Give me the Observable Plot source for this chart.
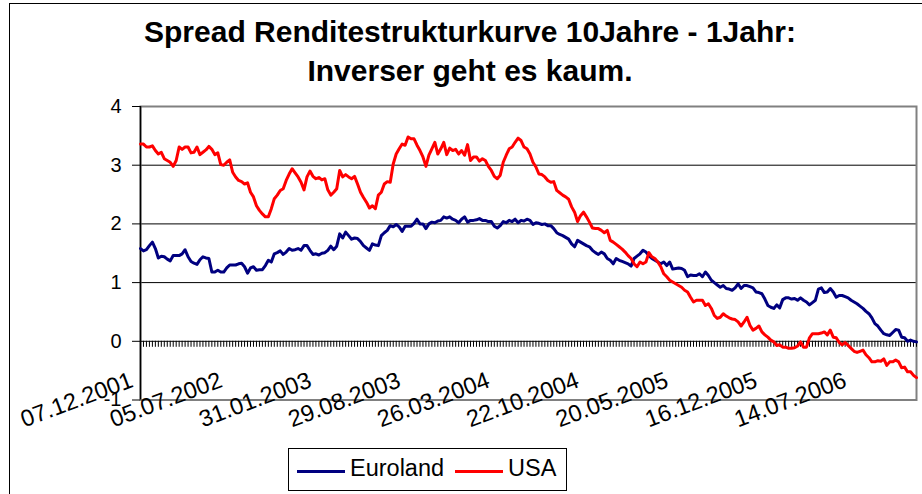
<!DOCTYPE html>
<html><head><meta charset="utf-8">
<script src="https://cdn.jsdelivr.net/npm/d3@7"></script>
<script src="https://cdn.jsdelivr.net/npm/@observablehq/plot@0.6"></script>
<style>
html,body{margin:0;padding:0;background:#fff;}
#wrap{position:relative;width:922px;height:494px;overflow:hidden;font-family:"Liberation Sans",Arial,sans-serif;color:#000;}
#border{position:absolute;left:9px;top:3px;width:2000px;height:2000px;border-left:1.5px solid #000;border-top:1.5px solid #000;}
#title{position:absolute;left:9px;top:12px;width:922px;text-align:center;font-weight:bold;font-size:30px;line-height:39px;}
#chart{position:absolute;left:0;top:95px;}
#legend{position:absolute;left:288px;top:448px;width:279px;height:43px;box-sizing:border-box;border:1px solid #000;background:#fff;}
#legend .sw{position:absolute;height:3px;top:20.5px;}
#legend .lb{position:absolute;font-size:23.5px;line-height:1;top:8px;white-space:nowrap;}
</style></head>
<body><div id="wrap">
<div id="border"></div>
<div id="title">Spread Renditestrukturkurve 10Jahre - 1Jahr:<br>Inverser geht es kaum.</div>
<div id="chart"></div>
<div id="legend"></div>
</div>
<script>
const firstWeek = "07.12.2001";
const weekCount = 262;
const tickLabels = ["07.12.2001","05.07.2002","31.01.2003","29.08.2003","26.03.2004","22.10.2004","20.05.2005","16.12.2005","14.07.2006"];
const yTicks = [-1, 0, 1, 2, 3, 4];
const seriesNames = ["Euroland", "USA"];
const seriesColors = ["#000080", "#FF0000"];

const euroland = [
1.58,1.54,1.56,1.63,1.69,1.58,1.42,1.45,1.44,1.40,1.37,1.46,1.46,1.46,1.49,1.56,1.44,1.36,1.33,1.31,1.39,1.44,1.42,1.41,1.18,1.18,1.21,1.18,1.18,1.25,1.30,1.30,1.30,1.32,1.33,1.27,1.16,1.25,1.27,1.21,1.22,1.22,1.29,1.38,1.35,1.49,1.51,1.54,1.48,1.52,1.58,1.55,1.56,1.58,1.55,1.63,1.63,1.55,1.48,1.49,1.47,1.50,1.51,1.55,1.62,1.56,1.62,1.83,
1.76,1.86,1.80,1.74,1.76,1.75,1.70,1.63,1.59,1.55,1.66,1.64,1.63,1.80,1.85,1.89,1.97,1.95,1.99,1.95,1.87,1.96,1.96,1.96,2.01,2.08,2.00,2.00,1.92,2.00,2.03,2.02,2.05,2.06,2.12,2.10,2.12,2.08,2.06,2.02,2.08,2.12,2.03,2.06,2.06,2.07,2.09,2.06,2.06,2.04,2.04,1.96,1.93,1.97,2.04,2.02,2.06,2.04,2.08,2.02,2.06,2.05,2.08,2.06,
1.99,2.02,2.01,1.99,2.00,1.97,1.97,1.92,1.85,1.82,1.80,1.77,1.74,1.66,1.61,1.72,1.69,1.66,1.63,1.61,1.55,1.51,1.48,1.52,1.49,1.41,1.38,1.32,1.41,1.38,1.36,1.34,1.32,1.28,1.41,1.45,1.49,1.55,1.52,1.46,1.41,1.38,1.35,1.32,1.35,1.29,1.35,1.23,1.24,1.25,1.24,1.21,1.10,1.13,1.12,1.12,1.15,1.10,1.18,1.12,1.04,1.00,0.96,
0.92,0.95,0.90,0.89,0.87,0.91,0.98,0.90,0.95,0.95,0.93,0.91,0.84,0.83,0.81,0.72,0.61,0.58,0.56,0.62,0.57,0.71,0.74,0.74,0.72,0.73,0.70,0.74,0.70,0.67,0.62,0.66,0.70,0.89,0.91,0.83,0.84,0.90,0.84,0.75,0.78,0.78,0.76,0.74,0.70,0.67,0.64,0.60,0.56,0.51,0.47,0.40,0.30,0.26,0.19,0.13,0.11,0.10,0.15,0.20,0.19,0.07,0.06,0.00,0.02,0.00,-0.01
];

const usa = [
3.36,3.36,3.31,3.31,3.33,3.25,3.19,3.22,3.11,3.08,3.05,2.98,3.08,3.31,3.27,3.31,3.31,3.21,3.22,3.31,3.18,3.22,3.26,3.32,3.27,3.18,3.21,3.01,3.00,3.05,3.09,2.88,2.80,2.74,2.72,2.68,2.70,2.54,2.46,2.31,2.23,2.17,2.12,2.12,2.26,2.43,2.49,2.57,2.60,2.74,2.85,2.94,2.87,2.80,2.71,2.58,2.80,2.90,2.81,2.77,2.79,2.75,2.77,2.58,2.49,2.54,2.60,2.91,
2.80,2.84,2.80,2.77,2.81,2.68,2.54,2.45,2.37,2.27,2.31,2.26,2.49,2.54,2.68,2.72,2.71,3.02,3.19,3.28,3.36,3.34,3.48,3.45,3.45,3.34,3.25,3.14,2.98,3.17,3.28,3.39,3.19,3.28,3.39,3.18,3.29,3.25,3.27,3.19,3.25,3.17,3.35,3.08,3.14,3.14,3.07,3.11,3.08,2.98,2.91,2.81,2.77,2.83,3.05,3.17,3.28,3.31,3.39,3.46,3.42,3.31,3.28,3.19,
3.05,2.97,2.85,2.84,2.80,2.74,2.71,2.72,2.57,2.53,2.49,2.46,2.42,2.29,2.20,2.04,2.14,2.20,2.12,2.03,1.93,1.92,1.92,1.89,1.85,1.89,1.72,1.69,1.65,1.61,1.57,1.52,1.46,1.41,1.32,1.27,1.35,1.32,1.35,1.51,1.44,1.41,1.35,1.27,1.15,1.10,1.04,1.01,0.98,0.95,0.92,0.87,0.84,0.75,0.67,0.70,0.70,0.70,0.61,0.64,0.56,0.44,0.39,
0.41,0.47,0.43,0.40,0.38,0.37,0.33,0.26,0.33,0.41,0.27,0.19,0.22,0.26,0.16,0.11,0.07,0.02,-0.01,-0.07,-0.06,-0.10,-0.10,-0.12,-0.12,-0.11,-0.08,-0.01,-0.10,-0.10,0.06,0.13,0.13,0.13,0.14,0.16,0.11,0.19,0.07,0.06,-0.02,-0.06,-0.02,-0.07,-0.12,-0.17,-0.19,-0.17,-0.15,-0.23,-0.28,-0.35,-0.35,-0.33,-0.34,-0.30,-0.41,-0.35,-0.35,-0.32,-0.35,-0.45,-0.44,-0.52,-0.52,-0.58,-0.62
];

const parse = d3.utcParse("%d.%m.%Y");
const start = parse(firstWeek);
const weeks = d3.range(weekCount).map(i => d3.utcDay.offset(start, 7 * i));
const valuesByName = {Euroland: euroland, USA: usa};
const rows = seriesNames.flatMap(name => valuesByName[name].map((v, i) => ({date: weeks[i], value: v, name})));

const chart = Plot.plot({
  width: 922, height: 345,
  marginLeft: 140, marginRight: 6, marginTop: 11, marginBottom: 40.5,
  x: {type: "utc", domain: [weeks[0], weeks[weeks.length - 1]], axis: null},
  y: {domain: [-1, 4], axis: null},
  color: {domain: seriesNames, range: seriesColors},
  style: {fontFamily: "'Liberation Sans', Arial, sans-serif", fontSize: "20px", background: "transparent", overflow: "visible", color: "#000"},
  marks: [
    Plot.ruleY([1, 2, 3], {stroke: "#000", strokeWidth: 1}),
    Plot.frame({stroke: "#808080", strokeWidth: 2}),
    Plot.ruleY([0], {stroke: "#000", strokeWidth: 1}),
    Plot.ruleX(weeks, {x: d => d, y1: () => 0, y2: () => 0, insetBottom: -6, stroke: "#000", strokeWidth: 1}),
    Plot.ruleX([weeks[0]], {stroke: "#000", strokeWidth: 1.5}),
    Plot.axisY(yTicks, {anchor: "left", tickSize: 8, tickPadding: 11, fontSize: 20, tickFormat: d => String(d), label: null}),
    Plot.text(tickLabels, {x: d => parse(d), y: () => 0, text: d => d, rotate: -20.5, textAnchor: "end", lineAnchor: "bottom", dx: -6, dy: 45, fontSize: 23.5, fill: "#000"}),
    Plot.line(rows, {x: "date", y: "value", z: "name", stroke: "name", strokeWidth: 3})
  ]
});
document.getElementById("chart").appendChild(chart);

const legend = document.getElementById("legend");
const legendPos = [{sw: 8, lb: 61}, {sw: 166, lb: 219}];
seriesNames.forEach((name, k) => {
  const sw = document.createElement("div");
  sw.className = "sw";
  sw.style.left = legendPos[k].sw + "px";
  sw.style.width = "48px";
  sw.style.background = seriesColors[k];
  legend.appendChild(sw);
  const lb = document.createElement("div");
  lb.className = "lb";
  lb.style.left = legendPos[k].lb + "px";
  lb.textContent = name;
  legend.appendChild(lb);
});
</script>
</body></html>
